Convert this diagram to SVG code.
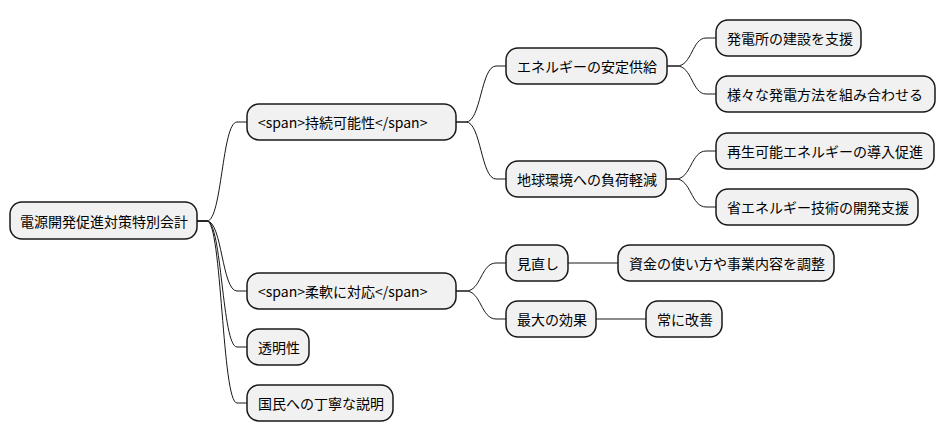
<svg xmlns="http://www.w3.org/2000/svg" width="943" height="443" viewBox="0 0 943 443">
<style>
rect{fill:#f1f1f1;stroke:#181818;stroke-width:1.5}
text{font-family:"Noto Sans CJK JP","Noto Sans",sans-serif;font-size:14px;fill:#000;dominant-baseline:central}
#c path{fill:none;stroke:#181818;stroke-width:1}
</style>
<rect width="943" height="443" style="fill:#fff;stroke:none"/>
<g id="c">
<path d="M197 221H207C222 221 222 122 237 122H247"/>
<path d="M197 221H207C222 221 222 291 237 291H247"/>
<path d="M197 221H207C222 221 222 347 237 347H247"/>
<path d="M197 221H207C222 221 222 403 237 403H247"/>
<path d="M456 122H466C481 122 481 66 496 66H506"/>
<path d="M456 122H466C481 122 481 179 496 179H506"/>
<path d="M456 291H466C481 291 481 263 496 263H506"/>
<path d="M456 291H466C481 291 481 319 496 319H506"/>
<path d="M667 66H677C692 66 692 38 706 38H716"/>
<path d="M667 66H677C692 66 692 94 706 94H716"/>
<path d="M666 179H676C691 179 691 151 706 151H716"/>
<path d="M666 179H676C691 179 691 207 706 207H716"/>
<path d="M568 263H618"/>
<path d="M596 319H646"/>
</g>
<g id="n0"><rect x="10" y="202" width="187" height="37" rx="12"/><text x="20" y="221">電源開発促進対策特別会計</text></g>
<g id="n1"><rect x="247" y="104" width="209" height="36" rx="12"/><text x="258" y="122">&lt;span&gt;持続可能性&lt;/span&gt;</text></g>
<g id="n2"><rect x="247" y="273" width="209" height="36" rx="12"/><text x="258" y="291">&lt;span&gt;柔軟に対応&lt;/span&gt;</text></g>
<g id="n3"><rect x="247" y="329" width="62" height="36" rx="12"/><text x="258" y="347">透明性</text></g>
<g id="n4"><rect x="247" y="385" width="146" height="36" rx="12"/><text x="258" y="403">国民への丁寧な説明</text></g>
<g id="n5"><rect x="506" y="48" width="161" height="36" rx="12"/><text x="517" y="66">エネルギーの安定供給</text></g>
<g id="n6"><rect x="506" y="161" width="160" height="36" rx="12"/><text x="517" y="179">地球環境への負荷軽減</text></g>
<g id="n7"><rect x="506" y="245" width="62" height="36" rx="12"/><text x="517" y="263">見直し</text></g>
<g id="n8"><rect x="506" y="301" width="90" height="36" rx="12"/><text x="517" y="319">最大の効果</text></g>
<g id="n9"><rect x="716" y="20" width="145" height="36" rx="12"/><text x="727" y="38">発電所の建設を支援</text></g>
<g id="n10"><rect x="716" y="76" width="219" height="36" rx="12"/><text x="727" y="94">様々な発電方法を組み合わせる</text></g>
<g id="n11"><rect x="716" y="133" width="218" height="36" rx="12"/><text x="727" y="151">再生可能エネルギーの導入促進</text></g>
<g id="n12"><rect x="716" y="189" width="202" height="36" rx="12"/><text x="727" y="207">省エネルギー技術の開発支援</text></g>
<g id="n13"><rect x="618" y="245" width="216" height="36" rx="12"/><text x="629" y="263">資金の使い方や事業内容を調整</text></g>
<g id="n14"><rect x="646" y="301" width="76" height="36" rx="12"/><text x="657" y="319">常に改善</text></g>
</svg>
